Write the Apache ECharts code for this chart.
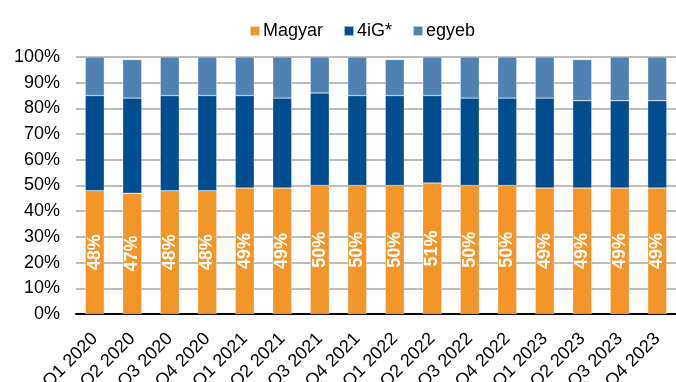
<!DOCTYPE html>
<html><head><meta charset="utf-8">
<script src="https://cdn.jsdelivr.net/npm/echarts@6/dist/echarts.min.js"></script>
<style>html,body{margin:0;padding:0;background:#fff}#c{width:676px;height:382px}</style>
</head><body><div id="c"></div>
<script>
const categories = ['Q1 2020','Q2 2020','Q3 2020','Q4 2020','Q1 2021','Q2 2021','Q3 2021','Q4 2021','Q1 2022','Q2 2022','Q3 2022','Q4 2022','Q1 2023','Q2 2023','Q3 2023','Q4 2023'];
const magyar = [48,47,48,48,49,49,50,50,50,51,50,50,49,49,49,49];
const fourIG = [37,37,37,37,36,35,36,35,35,34,34,34,35,34,34,34];
const egyeb  = [15,15,15,15,15,16,14,15,14,15,16,16,16,16,17,17];

const chart = echarts.init(document.getElementById('c'), null, {renderer:'canvas'});
const font = 'Arial, "Liberation Sans", sans-serif';
const barBorder = {borderColor:'rgba(255,255,255,0.6)', borderWidth:0.5};
chart.setOption({
  animation:false,
  textStyle:{fontFamily:font},
  legend:{
    left:249, top:22, padding:0, itemWidth:10, itemHeight:10, itemGap:20,
    icon:'rect',
    textStyle:{fontSize:18, color:'#000', fontFamily:font, padding:[0,0,0,-2]},
    data:['Magyar','4iG*','egyeb']
  },
  grid:{left:76, right:0, top:57, bottom:68, containLabel:false, outerBoundsMode:'none'},
  xAxis:{
    type:'category', data:categories,
    axisLine:{lineStyle:{color:'#000', width:2}},
    axisTick:{show:false},
    axisLabel:{rotate:45, fontSize:18, color:'#000', margin:22, interval:0, fontFamily:font}
  },
  yAxis:{
    type:'value', min:0, max:100, interval:10,
    axisLine:{show:false}, axisTick:{show:false},
    splitLine:{lineStyle:{color:'#a6a6a6', width:1.5}},
    axisLabel:{formatter:'{value}%', fontSize:18, color:'#000', margin:16, fontFamily:font}
  },
  series:[
    {name:'Magyar', type:'bar', stack:'t', data:magyar, barWidth:19,
     itemStyle:Object.assign({color:'#F39528'}, barBorder),
     label:{show:true, position:'inside', rotate:90, formatter:'{c}%', color:'#fff', fontSize:18, fontWeight:'bold', fontFamily:font}},
    {name:'4iG*', type:'bar', stack:'t', data:fourIG, barWidth:19,
     itemStyle:Object.assign({color:'#004E8F'}, barBorder)},
    {name:'egyeb', type:'bar', stack:'t', data:egyeb, barWidth:19,
     itemStyle:Object.assign({color:'#4F82B2'}, barBorder)}
  ]
});
</script></body></html>
